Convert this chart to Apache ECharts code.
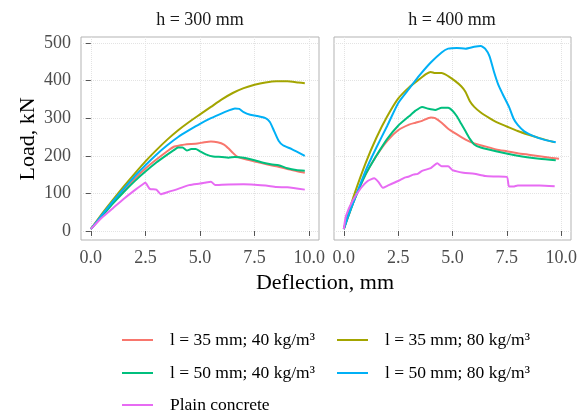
<!DOCTYPE html>
<html>
<head>
<meta charset="utf-8">
<script src="https://cdn.jsdelivr.net/npm/echarts@6/dist/echarts.min.js"></script>
<style>
  html, body { margin: 0; padding: 0; background: #fff; }
  #chart { width: 582px; height: 414px; }
</style>
</head>
<body>
<div id="chart"></div>
<script>
// series names (legend order)
var names = ['l = 35 mm; 40 kg/m³', 'l = 35 mm; 80 kg/m³', 'l = 50 mm; 40 kg/m³', 'l = 50 mm; 80 kg/m³', 'Plain concrete'];
var colors = ['#F8766D', '#A3A500', '#00BF7D', '#00B0F6', '#E76BF3'];
var panels = ['h = 300 mm', 'h = 400 mm'];
var xTicks = [0, 2.5, 5, 7.5, 10];
var yTicks = [0, 100, 200, 300, 400, 500];

// h = 300 mm, [deflection mm, load kN]
var h300_l35_40 = [[0,5],[0.5,40],[1,75],[1.5,107],[2,138],[2.5,166],[3,190],[3.5,212],[3.8,224],[4.1,228],[4.4,231],[4.8,232],[5.2,236],[5.5,238],[5.8,236],[6.1,230],[6.3,220],[6.5,208],[6.7,198],[7,192],[7.5,185],[8,178],[8.5,172],[9,165],[9.5,158],[9.8,155]];
var h300_l35_80 = [[0,5],[0.5,45],[1,82],[1.5,118],[2,152],[2.5,185],[3,215],[3.5,243],[4,268],[4.5,290],[5,310],[5.5,330],[6,350],[6.5,367],[7,380],[7.5,389],[8,395],[8.5,398],[9,398],[9.5,395],[9.8,393]];
var h300_l50_40 = [[0,5],[0.5,38],[1,72],[1.5,103],[2,132],[2.5,158],[3,182],[3.5,203],[3.8,215],[4,222],[4.2,222],[4.4,214],[4.6,218],[4.8,218],[5,212],[5.3,203],[5.6,198],[6,197],[6.3,195],[6.6,197],[7,195],[7.5,188],[8,180],[8.3,177],[8.6,175],[9,167],[9.4,162],[9.8,160]];
var h300_l50_80 = [[0,5],[0.5,42],[1,78],[1.5,112],[2,145],[2.5,175],[3,203],[3.5,228],[4,250],[4.5,268],[5,285],[5.5,300],[6,313],[6.3,320],[6.6,326],[6.8,325],[7,316],[7.3,309],[7.6,306],[8,300],[8.2,290],[8.4,265],[8.6,240],[8.8,228],[9.2,218],[9.8,200]];
var h300_plain = [[0,5],[0.5,35],[1,60],[1.5,85],[2,108],[2.4,125],[2.5,128],[2.7,112],[3,110],[3.2,98],[3.5,103],[4,112],[4.5,122],[5,126],[5.2,128],[5.5,131],[5.7,122],[6,123],[7,124],[7.5,123],[8,121],[8.5,117],[9,116],[9.8,110]];

// h = 400 mm
var h400_l35_40 = [[0,5],[0.2,38],[0.5,85],[1,150],[1.5,200],[2,240],[2.5,268],[3,283],[3.3,288],[3.6,293],[4,302],[4.2,300],[4.5,288],[4.8,272],[5.2,257],[5.6,243],[6,233],[6.5,225],[7,217],[7.5,212],[8,207],[8.5,203],[9,199],[9.5,195],[9.9,192]];
var h400_l35_80 = [[0,5],[0.2,45],[0.5,100],[1,180],[1.5,248],[2,305],[2.5,352],[3,382],[3.5,405],[3.8,418],[4,423],[4.2,420],[4.5,420],[4.8,412],[5.1,400],[5.4,385],[5.6,370],[5.8,345],[6,330],[6.3,315],[6.7,300],[7,290],[7.5,278],[8,266],[8.5,256],[9,247],[9.7,236]];
var h400_l50_40 = [[0,5],[0.2,38],[0.5,85],[1,150],[1.5,200],[2,245],[2.5,280],[3,305],[3.3,320],[3.6,330],[3.9,325],[4.2,322],[4.5,328],[4.8,328],[5,320],[5.2,305],[5.4,285],[5.6,265],[5.8,245],[6,230],[6.3,222],[7,212],[8,200],[9,192],[9.75,188]];
var h400_l50_80 = [[0,5],[0.2,40],[0.5,85],[1,160],[1.5,222],[2,280],[2.5,340],[3,378],[3.5,415],[4,448],[4.5,475],[4.8,485],[5.2,487],[5.6,485],[6,490],[6.3,492],[6.5,485],[6.7,465],[6.9,425],[7.1,390],[7.3,365],[7.6,330],[7.8,300],[8,282],[8.3,265],[8.7,253],[9.2,243],[9.75,236]];
var h400_plain = [[0,5],[0.1,40],[0.4,80],[0.8,115],[1.1,133],[1.4,140],[1.6,130],[1.8,115],[2,120],[2.5,133],[2.8,142],[3,145],[3.2,150],[3.4,152],[3.6,160],[4,167],[4.3,180],[4.5,172],[4.8,172],[5,162],[5.5,155],[6,152],[6.5,146],[7,145],[7.5,144],[7.6,118],[7.8,118],[8,121],[8.5,121],[9,121],[9.7,119]];

var panelData = [
  [h300_l35_40, h300_l35_80, h300_l50_40, h300_l50_80, h300_plain],
  [h400_l35_40, h400_l35_80, h400_l50_40, h400_l50_80, h400_plain]
];

var font = 'Liberation Serif';
var myChart = echarts.init(document.getElementById('chart'));

var series = [];
panelData.forEach(function (group, p) {
  group.forEach(function (d, i) {
    series.push({
      name: names[i],
      type: 'line',
      xAxisIndex: p,
      yAxisIndex: p,
      data: d,
      showSymbol: false,
      smooth: 0.2,
      lineStyle: { width: 2, color: colors[i] },
      itemStyle: { color: colors[i] }
    });
  });
});

function xAxisFor(p) {
  return {
    type: 'value', gridIndex: p, min: -0.45, max: 10.45,
    axisLine: { show: false },
    axisTick: { show: true, length: 5, customValues: xTicks, lineStyle: { color: '#555' } },
    axisLabel: { customValues: xTicks, color: '#4d4d4d', fontFamily: font, fontSize: 18, margin: 9,
      formatter: function (v) { return v.toFixed(1); } },
    splitLine: { show: true, lineStyle: { color: '#e3e3e3', type: 'dotted' } }
  };
}
function yAxisFor(p) {
  return {
    type: 'value', gridIndex: p, min: -24, max: 516,
    axisLine: { show: false },
    axisTick: { show: p === 0, length: 5, customValues: yTicks, lineStyle: { color: '#555' } },
    axisLabel: { show: p === 0, customValues: yTicks, color: '#4d4d4d', fontFamily: font, fontSize: 18, margin: 10 },
    splitLine: { show: true, lineStyle: { color: '#e3e3e3', type: 'dotted' } }
  };
}

// one legend per entry: 2 columns x 3 rows like the original
var legendPos = [[122, 331], [337, 331], [122, 364], [337, 364], [122, 396]];
var legends = names.map(function (n, i) {
  return {
    left: legendPos[i][0], top: legendPos[i][1], padding: 0,
    icon: 'rect', itemWidth: 31, itemHeight: 2,
    textStyle: { fontFamily: font, fontSize: 17.5, color: '#000', padding: [0, 0, 0, 12] },
    data: [n]
  };
});

myChart.setOption({
  animation: false,
  grid: [
    { left: 81, top: 37, width: 238, height: 203, show: true, borderColor: '#b3b3b3', borderWidth: 1 },
    { left: 334, top: 37, width: 237, height: 203, show: true, borderColor: '#b3b3b3', borderWidth: 1 }
  ],
  xAxis: [xAxisFor(0), xAxisFor(1)],
  yAxis: [yAxisFor(0), yAxisFor(1)],
  legend: legends,
  graphic: [
    { type: 'text', x: 200, y: 20, style: { text: panels[0], font: '18px "Liberation Serif"', fill: '#1a1a1a', textAlign: 'center', textVerticalAlign: 'middle' } },
    { type: 'text', x: 452, y: 20, style: { text: panels[1], font: '18px "Liberation Serif"', fill: '#1a1a1a', textAlign: 'center', textVerticalAlign: 'middle' } },
    { type: 'text', x: 325, y: 283, style: { text: 'Deflection, mm', font: '22px "Liberation Serif"', fill: '#000', textAlign: 'center', textVerticalAlign: 'middle' } },
    { type: 'text', x: 28, y: 139, rotation: Math.PI / 2, style: { text: 'Load, kN', font: '22px "Liberation Serif"', fill: '#000', textAlign: 'center', textVerticalAlign: 'middle' } }
  ],
  series: series
});
</script>
</body>
</html>
